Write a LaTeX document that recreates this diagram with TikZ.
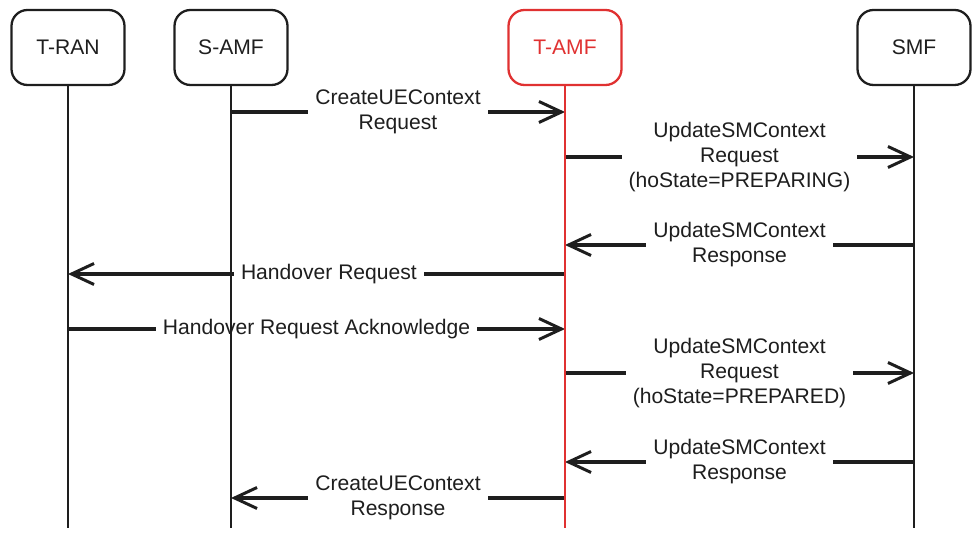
\documentclass[tikz,border=0pt]{standalone}
\usepackage{fontspec}
\setmainfont{Liberation Sans}
\usetikzlibrary{arrows.meta, positioning}
\definecolor{ink}{HTML}{1E1E1E}
\definecolor{redink}{HTML}{E03131}
\tikzset{
	actorbox/.style={draw, rounded corners=0.32cm, line width=1.3pt, minimum width=2.26cm, minimum height=1.5cm, font=\fontsize{12}{14}\selectfont}
}
\tikzset{
	lifeline/.style={line width=1.5pt},
	msg/.style={ink, line width=1.9pt, -{Straight Barb[length=0.45cm, width=0.42cm, line width=1.7pt]}},
	msglabel/.style={fill=white, inner xsep=0.14cm, inner ysep=1pt, align=center, text=ink, font=\fontsize{12}{14.2}\selectfont}
}

\begin{document}
\begin{tikzpicture}
      \useasboundingbox (0,0) rectangle (19.6,-10.78);

      % participants with their lifeline ends
      \foreach \name/\x/\col/\txt in {tran/1.36/ink/T-RAN, samf/4.62/ink/S-AMF, tamf/11.3/redink/T-AMF, smf/18.28/ink/SMF} {
        \node[actorbox, draw=\col, text=\col] (\name) at (\x,-0.95) {\txt};
        \coordinate (\name-end) at (\x,-10.56);
      }

      % message rows
      \foreach \row/\y in {1/-2.24, 2/-3.14, 3/-4.9, 4/-5.48, 5/-6.58, 6/-7.46, 7/-9.24, 8/-9.96}
        \coordinate (row\row) at (0,\y);

      % messages
      \draw[msg] (samf |- row1) -- node[msglabel] {CreateUEContext\\Request} (tamf |- row1);
      \draw[msg] (tamf |- row2) -- node[msglabel] {UpdateSMContext\\Request\\(hoState=PREPARING)} (smf |- row2);
      \draw[msg] (smf |- row3) -- node[msglabel] {UpdateSMContext\\Response} (tamf |- row3);
      \draw[msg] (tamf |- row4) -- node[msglabel, pos=0.475] {Handover Request} (tran |- row4);
      \draw[msg] (tran |- row5) -- node[msglabel] {Handover Request Acknowledge} (tamf |- row5);
      \draw[msg] (tamf |- row6) -- node[msglabel] {UpdateSMContext\\Request\\(hoState=PREPARED)} (smf |- row6);
      \draw[msg] (smf |- row7) -- node[msglabel] {UpdateSMContext\\Response} (tamf |- row7);
      \draw[msg] (tamf |- row8) -- node[msglabel] {CreateUEContext\\Response} (samf |- row8);

      % lifelines
      \foreach \name/\col in {tran/ink, samf/ink, tamf/redink, smf/ink}
        \draw[lifeline, \col] (\name.south) -- (\name-end);
    \end{tikzpicture}
\end{document}
